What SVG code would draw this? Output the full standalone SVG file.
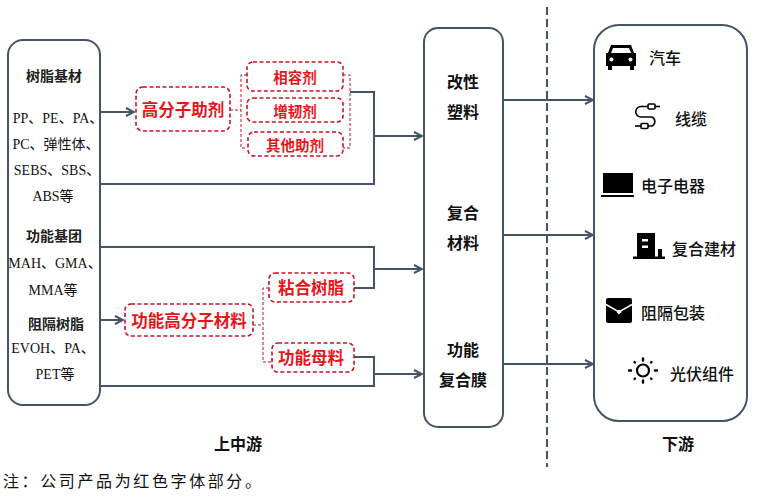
<svg xmlns="http://www.w3.org/2000/svg" width="757" height="497" viewBox="0 0 757 497">
<style>
.box{fill:#fff;stroke:#44546a;stroke-width:2}
.dbox{fill:#fff;stroke:#cc1122;stroke-width:1.6;stroke-dasharray:4 2.5}
.conn{stroke:#44546a;stroke-width:2;fill:none}
.br{stroke:#cc1122;stroke-width:1;stroke-dasharray:3 2;fill:none}
.red{fill:#e8141c;font-weight:bold;font-family:"Noto Sans CJK SC","Noto Sans",sans-serif;text-anchor:middle;dominant-baseline:central}
.hd{fill:#222;font-weight:bold;font-family:"Noto Sans CJK SC","Noto Sans",sans-serif;font-size:14px;text-anchor:middle;dominant-baseline:central}
.lt{fill:#111;font-family:"Liberation Serif","Noto Sans CJK SC",serif;font-size:14px;text-anchor:middle;dominant-baseline:central}
.mid{fill:#111;font-weight:bold;font-family:"Noto Sans CJK SC","Noto Sans",sans-serif;font-size:16px;text-anchor:middle;dominant-baseline:central}
.ds{fill:#111;font-family:"Noto Sans CJK SC","Noto Sans",sans-serif;font-size:16px;font-weight:500;dominant-baseline:central}
.ic{fill:#000}
</style>
<defs>
<marker id="arr" viewBox="0 0 10 10" refX="9" refY="5" markerWidth="10" markerHeight="10" markerUnits="userSpaceOnUse" orient="auto">
<path d="M1,1 L9,5 L1,9" fill="none" stroke="#44546a" stroke-width="2"/>
</marker>
</defs>

<g id="connectors">
<line class="conn" x1="100" y1="112" x2="134" y2="112" marker-end="url(#arr)"/>
<polyline class="conn" points="350,92 374,92 374,184 100,184"/>
<line class="conn" x1="374" y1="136" x2="422" y2="136" marker-end="url(#arr)"/>
<polyline class="conn" points="100,247 374,247 374,288 354,288"/>
<line class="conn" x1="374" y1="269" x2="422" y2="269" marker-end="url(#arr)"/>
<line class="conn" x1="100" y1="320" x2="123" y2="320" marker-end="url(#arr)"/>
<polyline class="conn" points="354,357 374,357 374,386 100,386"/>
<line class="conn" x1="374" y1="374" x2="422" y2="374" marker-end="url(#arr)"/>
<line class="conn" x1="503" y1="100" x2="593" y2="100" marker-end="url(#arr)"/>
<line class="conn" x1="503" y1="235" x2="593" y2="235" marker-end="url(#arr)"/>
<line class="conn" x1="503" y1="364" x2="593" y2="364" marker-end="url(#arr)"/>
<line x1="547" y1="7" x2="547" y2="467" stroke="#44546a" stroke-width="2" stroke-dasharray="8 4"/>
<path class="br" d="M230,110 H241 M247,75 H241 V148 H247 M343,75 H350 V148 H343"/>
<path class="br" d="M253,325 H263 M269,288 H263 V362 H272"/>
</g>

<g id="upstream">
<rect class="box" x="8" y="40" width="92" height="365" rx="15"/>
<text class="hd" x="54" y="75">树脂基材</text>
<text class="lt" x="58" y="118">PP、PE、PA、</text>
<text class="lt" x="56" y="144">PC、弹性体、</text>
<text class="lt" x="57" y="170">SEBS、SBS、</text>
<text class="lt" x="53" y="196">ABS等</text>
<text class="hd" x="54" y="235">功能基团</text>
<text class="lt" x="55" y="263">MAH、GMA、</text>
<text class="lt" x="53" y="290">MMA等</text>
<text class="hd" x="56" y="323">阻隔树脂</text>
<text class="lt" x="53" y="348">EVOH、PA、</text>
<text class="lt" x="55" y="374">PET等</text>
</g>

<g id="additive">
<rect class="dbox" x="136" y="87" width="94" height="44" rx="7"/>
<text class="red" x="183" y="109" font-size="16.5">高分子助剂</text>
</g>
<g id="compat">
<rect class="dbox" x="247" y="62" width="96" height="29" rx="6"/>
<text class="red" x="295" y="76" font-size="14.5">相容剂</text>
</g>
<g id="toughen">
<rect class="dbox" x="247" y="98" width="96" height="24" rx="6"/>
<text class="red" x="295" y="110" font-size="14.5">增韧剂</text>
</g>
<g id="other">
<rect class="dbox" x="248" y="132" width="95" height="24" rx="6"/>
<text class="red" x="295" y="144" font-size="14.5">其他助剂</text>
</g>
<g id="funcpoly">
<rect class="dbox" x="125" y="304" width="128" height="32" rx="6"/>
<text class="red" x="189" y="320" font-size="16.5">功能高分子材料</text>
</g>
<g id="adhesive">
<rect class="dbox" x="269" y="273" width="85" height="29" rx="6"/>
<text class="red" x="311" y="287" font-size="16.5">粘合树脂</text>
</g>
<g id="masterbatch">
<rect class="dbox" x="272" y="343" width="82" height="29" rx="6"/>
<text class="red" x="311" y="357" font-size="16.5">功能母料</text>
</g>

<g id="products">
<rect class="box" x="424" y="28" width="79" height="399" rx="14"/>
<text class="mid" x="463" y="81">改性</text>
<text class="mid" x="463" y="111">塑料</text>
<text class="mid" x="463" y="212">复合</text>
<text class="mid" x="463" y="242">材料</text>
<text class="mid" x="463" y="349">功能</text>
<text class="mid" x="463" y="379">复合膜</text>
</g>

<g id="downstream">
<rect class="box" x="594" y="25" width="153" height="396" rx="25"/>
<g id="car">
<path class="ic" d="M611,45 H631 L634,53 H636 V66 H634 V70 H630 V66 H612 V70 H608 V66 H606 V53 H608 Z"/>
<path d="M613,48 H629 L631,53 H611 Z" fill="#fff"/>
<circle cx="611.5" cy="59.5" r="2" fill="#fff"/>
<circle cx="630.5" cy="59.5" r="2" fill="#fff"/>
</g>
<text class="ds" x="649" y="57">汽车</text>
<g id="cable" fill="none" stroke="#000" stroke-width="1.6">
<rect x="648" y="104" width="7" height="5" rx="1"/>
<path d="M655,106.5 H660"/>
<path d="M648,106.5 H641 A5.2,5.2 0 0 0 641,117 H652 A5,5 0 0 1 652,126 H648"/>
<rect x="641" y="123.5" width="7" height="5" rx="1"/>
<path d="M641,126 H635"/>
</g>
<text class="ds" x="675" y="118">线缆</text>
<g id="laptop">
<rect class="ic" x="603" y="173" width="30" height="20"/>
<rect class="ic" x="601" y="195" width="33" height="2"/>
</g>
<text class="ds" x="641" y="185">电子电器</text>
<g id="building">
<rect class="ic" x="637" y="233" width="18" height="24"/>
<rect x="642" y="239" width="6" height="2.5" fill="#fff"/>
<rect x="642" y="245.5" width="6" height="2.5" fill="#fff"/>
<rect class="ic" x="658" y="249" width="4" height="8"/>
<rect class="ic" x="633" y="256.5" width="32" height="2.5"/>
</g>
<text class="ds" x="672" y="248">复合建材</text>
<g id="bag">
<rect class="ic" x="606" y="298" width="26" height="25" rx="2"/>
<polyline points="606,304.5 619,312 632,304.5" fill="none" stroke="#fff" stroke-width="1.5"/>
<path d="M619,309.5 L621.5,312 L619,314.5 L616.5,312 Z" fill="#fff"/>
</g>
<text class="ds" x="641" y="312">阻隔包装</text>
<g id="sun">
<circle cx="643" cy="370.5" r="6" fill="#fff" stroke="#000" stroke-width="2.2"/>
<g stroke="#000" stroke-width="2.4" stroke-linecap="round">
<path d="M643,358.5 V360.5 M643,380.5 V382.5 M629,370.5 H631 M655,370.5 H657"/>
<path d="M634.5,362 L635,362.5 M651.5,362 L651,362.5 M634.5,379 L635,378.5 M651.5,379 L651,378.5"/>
</g>
</g>
<text class="ds" x="670" y="373">光伏组件</text>
</g>

<g id="labels">
<text class="mid" x="238" y="443" font-size="15">上中游</text>
<text class="mid" x="678" y="443" font-size="15">下游</text>
<text x="3" y="480" font-family="'Noto Sans CJK SC','Noto Sans',sans-serif" font-size="16" fill="#111" dominant-baseline="central" textLength="258" lengthAdjust="spacing">注：公司产品为红色字体部分。</text>
</g>
</svg>
